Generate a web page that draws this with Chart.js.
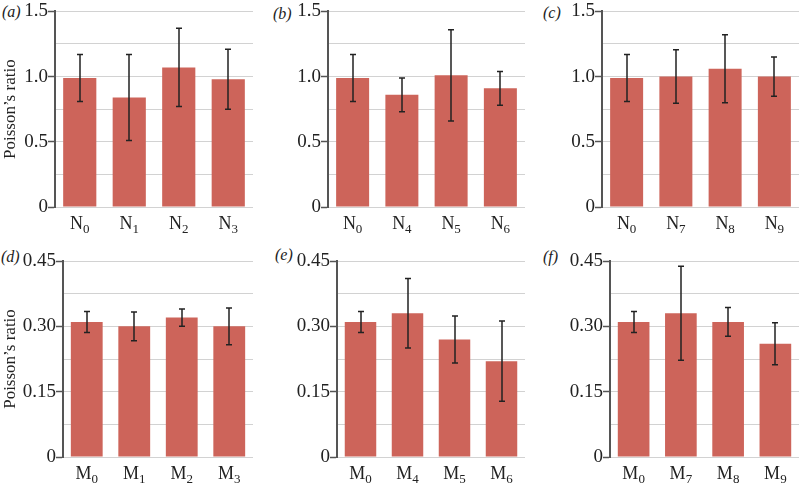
<!DOCTYPE html>
<html>
<head>
<meta charset="utf-8">
<script src="https://cdn.jsdelivr.net/npm/chart.js@4.4.1/dist/chart.umd.min.js"></script>
<style>
  html, body { margin: 0; padding: 0; background: #fff; }
  body { width: 799px; height: 488px; position: relative; overflow: hidden; }
  canvas { position: absolute; }
  .plab { position: absolute; font-family: "Liberation Serif", serif; font-style: italic; font-size: 16px; color: #222; line-height: 1; }
</style>
</head>
<body>
<span class="plab" style="left:2px;top:4px">(a)</span>
<span class="plab" style="left:273px;top:6px">(b)</span>
<span class="plab" style="left:543px;top:5px">(c)</span>
<span class="plab" style="left:1px;top:249px">(d)</span>
<span class="plab" style="left:275px;top:247px">(e)</span>
<span class="plab" style="left:543px;top:249px">(f)</span>
<canvas id="ca"></canvas>
<canvas id="cb"></canvas>
<canvas id="cc"></canvas>
<canvas id="cd"></canvas>
<canvas id="ce"></canvas>
<canvas id="cf"></canvas>
<script>
// ---- data ----
const catsA = ['N\u2080', 'N\u2081', 'N\u2082', 'N\u2083'];
const valsA = [0.99, 0.84, 1.07, 0.98];
const errA  = [0.18, 0.33, 0.30, 0.23];

const catsB = ['N\u2080', 'N\u2084', 'N\u2085', 'N\u2086'];
const valsB = [0.99, 0.86, 1.01, 0.91];
const errB  = [0.18, 0.13, 0.35, 0.13];

const catsC = ['N\u2080', 'N\u2087', 'N\u2088', 'N\u2089'];
const valsC = [0.99, 1.00, 1.06, 1.00];
const errC  = [0.18, 0.205, 0.26, 0.15];

const catsD = ['M\u2080', 'M\u2081', 'M\u2082', 'M\u2083'];
const valsD = [0.31, 0.30, 0.32, 0.30];
const errD  = [0.024, 0.033, 0.02, 0.042];

const catsE = ['M\u2080', 'M\u2084', 'M\u2085', 'M\u2086'];
const valsE = [0.31, 0.33, 0.27, 0.22];
const errE  = [0.024, 0.08, 0.054, 0.092];

const catsF = ['M\u2080', 'M\u2087', 'M\u2088', 'M\u2089'];
const valsF = [0.31, 0.33, 0.31, 0.26];
const errF  = [0.024, 0.108, 0.033, 0.048];

const yTicksN = ['0', '0.5', '1.0', '1.5'];
const yTicksM = ['0', '0.15', '0.30', '0.45'];
const yTitle = 'Poisson\u2019s ratio';

// ---- layout (positions only) ----
const panels = [
  { id: 'ca', cats: catsA, vals: valsA, err: errA, ticks: yTicksN, max: 1.5,  step: 0.25,  title: true,
    left: 0,   top: 0,   w: 262, h: 240, pl: 55,  pt: 11,  pr: 253, pb: 207 },
  { id: 'cb', cats: catsB, vals: valsB, err: errB, ticks: yTicksN, max: 1.5,  step: 0.25,  title: false,
    left: 262, top: 0,   w: 268, h: 240, pl: 328, pt: 11,  pr: 525, pb: 207 },
  { id: 'cc', cats: catsC, vals: valsC, err: errC, ticks: yTicksN, max: 1.5,  step: 0.25,  title: false,
    left: 530, top: 0,   w: 269, h: 240, pl: 602, pt: 11,  pr: 799, pb: 207 },
  { id: 'cd', cats: catsD, vals: valsD, err: errD, ticks: yTicksM, max: 0.45, step: 0.075, title: true,
    left: 0,   top: 240, w: 262, h: 248, pl: 63,  pt: 261, pr: 253, pb: 457 },
  { id: 'ce', cats: catsE, vals: valsE, err: errE, ticks: yTicksM, max: 0.45, step: 0.075, title: false,
    left: 262, top: 240, w: 268, h: 248, pl: 337, pt: 261, pr: 525, pb: 457 },
  { id: 'cf', cats: catsF, vals: valsF, err: errF, ticks: yTicksM, max: 0.45, step: 0.075, title: false,
    left: 530, top: 240, w: 269, h: 248, pl: 610, pt: 261, pr: 799, pb: 457 }
];

const serif = "'Liberation Serif', 'Times New Roman', serif";

const errorBarPlugin = {
  id: 'errorBars',
  afterDatasetsDraw(chart, args, opts) {
    const ctx = chart.ctx;
    const y = chart.scales.y;
    const meta = chart.getDatasetMeta(0);
    const ds = chart.data.datasets[0];
    ctx.save();
    ctx.strokeStyle = '#222';
    ctx.lineWidth = 1.5;
    meta.data.forEach((bar, i) => {
      const v = ds.data[i], e = opts.err[i];
      const x = Math.round(bar.x);
      const yTop = y.getPixelForValue(v + e);
      const yBot = y.getPixelForValue(v - e);
      ctx.beginPath();
      ctx.moveTo(x, yTop); ctx.lineTo(x, yBot);
      ctx.moveTo(x - 3, yTop); ctx.lineTo(x + 3, yTop);
      ctx.moveTo(x - 3, yBot); ctx.lineTo(x + 3, yBot);
      ctx.stroke();
    });
    ctx.restore();
  }
};

// Category labels with proper subscripts, placed by the x scale
const subLabelPlugin = {
  id: 'subLabels',
  afterDraw(chart) {
    const ctx = chart.ctx;
    const xs = chart.scales.x;
    const base = xs.top + 22;
    ctx.save();
    ctx.fillStyle = '#222';
    ctx.textBaseline = 'alphabetic';
    ctx.textAlign = 'left';
    chart.data.labels.forEach((lab, i) => {
      const letter = lab.charAt(0);
      const sc = lab.charCodeAt(1);
      const sub = (sc >= 0x2080 && sc <= 0x2089) ? String.fromCharCode(sc - 0x2080 + 48) : lab.slice(1);
      ctx.font = '18px ' + serif;
      const w1 = ctx.measureText(letter).width;
      ctx.font = '13px ' + serif;
      const w2 = ctx.measureText(sub).width;
      const x0 = xs.getPixelForTick(i) - (w1 + w2) / 2;
      ctx.font = '18px ' + serif;
      ctx.fillText(letter, x0, base);
      ctx.font = '13px ' + serif;
      ctx.fillText(sub, x0 + w1, base + 4);
    });
    ctx.restore();
  }
};

panels.forEach(p => {
  const cv = document.getElementById(p.id);
  cv.width = p.w; cv.height = p.h;
  cv.style.left = p.left + 'px'; cv.style.top = p.top + 'px';
  cv.style.width = p.w + 'px'; cv.style.height = p.h + 'px';
  const yw = p.pl - p.left;
  const xh = p.top + p.h - p.pb;
  new Chart(cv, {
    type: 'bar',
    data: {
      labels: p.cats,
      datasets: [{ data: p.vals, backgroundColor: '#cd645a', borderWidth: 0,
                   barPercentage: 0.67, categoryPercentage: 1.0 }]
    },
    plugins: [errorBarPlugin, subLabelPlugin],
    options: {
      responsive: false,
      animation: false,
      devicePixelRatio: 1,
      layout: { padding: { left: 0, top: p.pt - p.top, right: p.left + p.w - p.pr, bottom: 0 } },
      plugins: {
        legend: { display: false },
        tooltip: { enabled: false },
        errorBars: { err: p.err }
      },
      scales: {
        x: {
          grid: { display: false, drawTicks: false },
          border: { display: false },
          ticks: { display: false },
          afterFit(s) { s.height = xh; }
        },
        y: {
          min: 0, max: p.max,
          afterBuildTicks(s) {
            const t = [];
            for (let i = 0; i <= 6; i++) t.push({ value: p.step * i });
            s.ticks = t;
          },
          grid: {
            color: '#d2d2d2', lineWidth: 1, drawTicks: true, tickLength: 7, tickWidth: 1.5,
            tickColor: c => (c.index % 2 === 0 ? '#555' : 'rgba(0,0,0,0)')
          },
          border: { display: true, color: '#555', width: 2 },
          ticks: {
            color: '#222', font: { family: serif, size: 19 }, padding: 0,
            callback: (v, i) => (i % 2 === 0 ? p.ticks[i / 2] : '')
          },
          title: p.title ? { display: true, text: yTitle, color: '#222',
                             font: { family: serif, size: 17 }, padding: { top: 0, bottom: 0 } }
                         : { display: false },
          afterFit(s) { s.width = yw; }
        }
      }
    }
  });
});
</script>
</body>
</html>
